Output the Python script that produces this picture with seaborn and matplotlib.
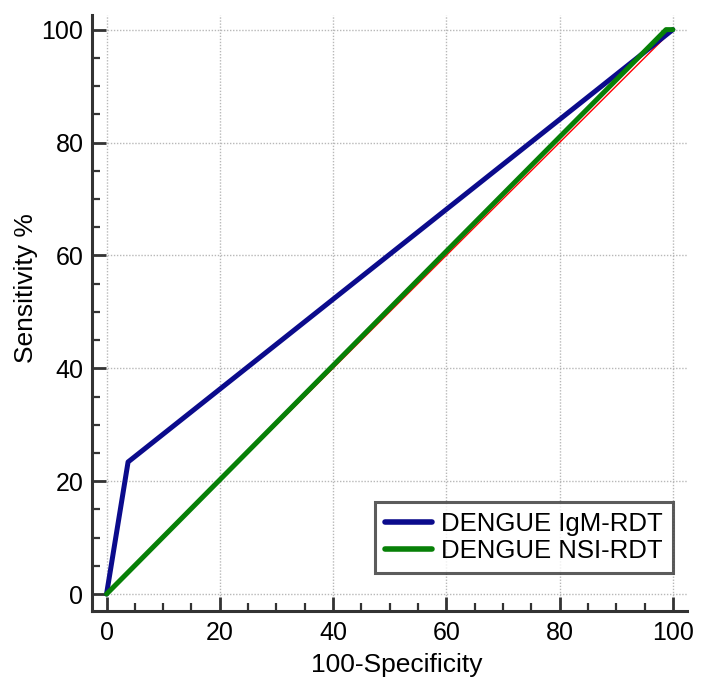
import matplotlib
matplotlib.use("Agg")
import matplotlib.pyplot as plt
from matplotlib.ticker import MultipleLocator
import seaborn as sns
import pandas as pd

# Data
igm_x = [0, 3.8, 100]
igm_y = [0, 23.4, 100]
ns1_x = [0, 98.8, 100]
ns1_y = [0, 100, 100]
ref_x = [0, 100]
ref_y = [0, 100]
series_names = ["DENGUE IgM-RDT", "DENGUE NSI-RDT"]

sns.set_style("white")
plt.rcParams["font.family"] = ["Liberation Sans", "DejaVu Sans"]
plt.rcParams["text.color"] = "black"
plt.rcParams["axes.labelcolor"] = "black"
plt.rcParams["xtick.color"] = "black"
plt.rcParams["ytick.color"] = "black"

df = pd.DataFrame({
    "x": igm_x + ns1_x,
    "y": igm_y + ns1_y,
    "series": [series_names[0]] * len(igm_x) + [series_names[1]] * len(ns1_x),
})

fig = plt.figure(figsize=(7.01, 6.80), dpi=100)
ax = fig.add_axes([0.131, 0.1015, 0.849, 0.8765])

# reference diagonal
ax.plot(ref_x, ref_y, color="red", lw=1.0, zorder=2)

sns.lineplot(data=df, x="x", y="y", hue="series", sort=False,
             palette=["#0b0b8c", "#078007"], linewidth=3.6, ax=ax,
             zorder=3, estimator=None)

ax.set_xlim(-2.6, 102.5)
ax.set_ylim(-3.0, 102.6)
ax.set_xticks([0, 20, 40, 60, 80, 100])
ax.set_yticks([0, 20, 40, 60, 80, 100])
ax.xaxis.set_minor_locator(MultipleLocator(5))
ax.yaxis.set_minor_locator(MultipleLocator(5))

ax.grid(True, which="major", color="#b8b8b8", linestyle=(0, (1, 1.2)), linewidth=1.0)
ax.set_axisbelow(True)

for s in ["top", "right"]:
    ax.spines[s].set_visible(False)
for s in ["left", "bottom"]:
    ax.spines[s].set_color("#333333")
    ax.spines[s].set_linewidth(2.2)

ax.tick_params(which="both", bottom=True, left=True, top=False, right=False)
ax.tick_params(which="major", direction="in", length=10, width=2.0,
               color="#333333", labelsize=18, labelcolor="black", pad=7)
ax.tick_params(which="minor", direction="in", length=6, width=1.6,
               color="#333333")
ax.tick_params(axis="y", which="major", pad=6)

ax.set_xlabel("100-Specificity", fontsize=19, color="black")
ax.set_ylabel("Sensitivity %", fontsize=19, color="black")
ax.xaxis.set_label_coords(0.512, -0.070)
ax.yaxis.set_label_coords(-0.091, 0.541)

leg = ax.legend(loc="lower right", bbox_to_anchor=(0.976, 0.064),
                fontsize=18.5, frameon=True, fancybox=False,
                handlelength=1.8, borderpad=0.4, labelspacing=0.1,
                handletextpad=0.35, borderaxespad=0.0)
leg.get_frame().set_edgecolor("#333333")
leg.get_frame().set_linewidth(2.2)
for t in leg.get_texts():
    t.set_color("black")
for line in leg.get_lines():
    line.set_linewidth(4)
    line.set_solid_capstyle("round")

fig.savefig("out.png", dpi=100)
